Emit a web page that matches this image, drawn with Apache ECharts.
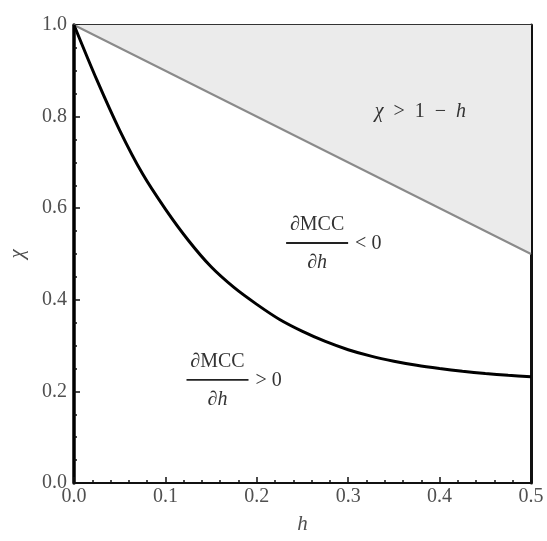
<!DOCTYPE html>
<html>
<head>
<meta charset="utf-8">
<script src="https://cdn.jsdelivr.net/npm/echarts@6/dist/echarts.min.js"></script>
<style>
  html, body { margin: 0; padding: 0; background: #fff; }
  #chart { width: 547px; height: 541px; }
</style>
</head>
<body>
<div id="chart"></div>
<script>
// Threshold curve chi(h) separating the sign of dMCC/dh
const hValues   = [0, 0.025, 0.05, 0.075, 0.10, 0.125, 0.15, 0.175, 0.20, 0.225, 0.25,
                   0.275, 0.30, 0.325, 0.35, 0.375, 0.40, 0.425, 0.45, 0.475, 0.50];
const chiValues = [1.0, 0.88, 0.77, 0.675, 0.598, 0.53, 0.472, 0.427, 0.39, 0.357, 0.331,
                   0.309, 0.291, 0.277, 0.266, 0.257, 0.250, 0.244, 0.239, 0.235, 0.232];

// Feasibility boundary chi = 1 - h (region above it is shaded)
const boundaryH   = [0, 0.5];
const boundaryChi = [1, 0.5];

// Axis ranges and tick steps
const xRange = [0, 0.5];
const yRange = [0, 1];
const xStep = 0.1;
const yStep = 0.2;

// Region annotations, anchored in data coordinates
const regionLabels = {
  infeasible: [0.379, 0.81],
  negative:   [0.266, 0.524],
  positive:   [0.157, 0.225]
};

const FONT = '"Liberation Serif", "DejaVu Serif", serif';
const TEXT = '#333';
const SIZE = 20;

const chart = echarts.init(document.getElementById('chart'), null, { renderer: 'canvas' });

const zip = (a, b) => a.map((v, i) => [v, b[i]]);

const tickLabel = {
  color: '#505050',
  fontFamily: FONT,
  fontSize: 20
};

chart.setOption({
  animation: false,
  backgroundColor: '#fff',
  grid: { left: 74, right: 16, top: 25, bottom: 58, containLabel: false, outerBoundsMode: 'none' },
  xAxis: [
    {
      type: 'value', min: xRange[0], max: xRange[1], interval: xStep,
      name: 'h', nameLocation: 'middle', nameGap: 31,
      nameTextStyle: { color: '#505050', fontFamily: FONT, fontSize: 21, fontStyle: 'italic' },
      axisLine: { show: true, onZero: false, lineStyle: { color: '#111', width: 2 } },
      axisTick: { show: true, inside: true, length: 6, lineStyle: { color: '#111', width: 1.5 } },
      minorTick: { show: true, splitNumber: 5, length: 3, lineStyle: { color: '#111', width: 1.5 } },
      splitLine: { show: false },
      axisLabel: Object.assign({ margin: 4, formatter: v => v.toFixed(1) }, tickLabel)
    },
    {
      type: 'value', position: 'top', min: xRange[0], max: xRange[1],
      axisLine: { show: true, onZero: false, lineStyle: { color: '#333', width: 2 } },
      axisTick: { show: false }, axisLabel: { show: false }, splitLine: { show: false }
    }
  ],
  yAxis: [
    {
      type: 'value', min: yRange[0], max: yRange[1], interval: yStep,
      name: 'χ', nameLocation: 'middle', nameGap: 46, nameRotate: 90,
      nameTextStyle: { color: '#505050', fontFamily: FONT, fontSize: 21, fontStyle: 'italic' },
      axisLine: { show: true, onZero: false, lineStyle: { color: '#000', width: 3.5 } },
      axisTick: { show: true, inside: true, length: 6, lineStyle: { color: '#111', width: 1.5 } },
      minorTick: { show: true, splitNumber: 4, length: 3, lineStyle: { color: '#111', width: 1.5 } },
      splitLine: { show: false },
      axisLabel: Object.assign({ margin: 7, formatter: v => v.toFixed(1) }, tickLabel)
    },
    {
      type: 'value', position: 'right', min: yRange[0], max: yRange[1],
      axisLine: { show: true, onZero: false, lineStyle: { color: '#111', width: 3 } },
      axisTick: { show: false }, axisLabel: { show: false }, splitLine: { show: false }
    }
  ],
  series: [
    {
      name: 'boundary',
      type: 'line',
      data: zip(boundaryH, boundaryChi),
      symbol: 'none',
      lineStyle: { color: '#8a8a8a', width: 2 },
      areaStyle: { color: '#ebebeb', opacity: 1, origin: 'end' },
      z: 2
    },
    {
      name: 'threshold',
      type: 'line',
      data: zip(hValues, chiValues),
      symbol: 'none',
      smooth: 0.3,
      lineStyle: { color: '#000', width: 3 },
      z: 3
    }
  ]
});

// Annotations: text and fraction glyphs positioned from data coordinates
const italic = { i: { fontStyle: 'italic', fontFamily: FONT, fontSize: SIZE, fill: TEXT } };

function fraction(center, relation) {
  const [cx, cy] = chart.convertToPixel({ xAxisIndex: 0, yAxisIndex: 0 }, center);
  const half = 31;
  return [
    {
      type: 'text', z: 10,
      style: { text: '∂MCC', x: cx, y: cy - 18, textAlign: 'center', textVerticalAlign: 'middle',
               font: SIZE + 'px ' + FONT, fill: TEXT }
    },
    {
      type: 'line', z: 10,
      shape: { x1: cx - half, y1: cy, x2: cx + half, y2: cy },
      style: { stroke: '#222', lineWidth: 1.8 }
    },
    {
      type: 'text', z: 10,
      style: { text: '∂{i|h}', x: cx, y: cy + 20, textAlign: 'center', textVerticalAlign: 'middle',
               font: SIZE + 'px ' + FONT, fill: TEXT, rich: italic }
    },
    {
      type: 'text', z: 10,
      style: { text: relation + ' 0', x: cx + half + 7, y: cy + 1,
               textAlign: 'left', textVerticalAlign: 'middle',
               font: SIZE + 'px ' + FONT, fill: TEXT }
    }
  ];
}

function placeAnnotations() {
  const [ix, iy] = chart.convertToPixel({ xAxisIndex: 0, yAxisIndex: 0 }, regionLabels.infeasible);
  const elements = [
    {
      type: 'text', z: 10,
      style: {
        text: '{i|χ}  >  1  −  {i|h}', x: ix, y: iy, textAlign: 'center', textVerticalAlign: 'middle',
        font: SIZE + 'px ' + FONT, fill: TEXT, rich: italic
      }
    }
  ].concat(fraction(regionLabels.negative, '<'), fraction(regionLabels.positive, '>'));
  chart.setOption({ graphic: elements });
}

placeAnnotations();
</script>
</body>
</html>
